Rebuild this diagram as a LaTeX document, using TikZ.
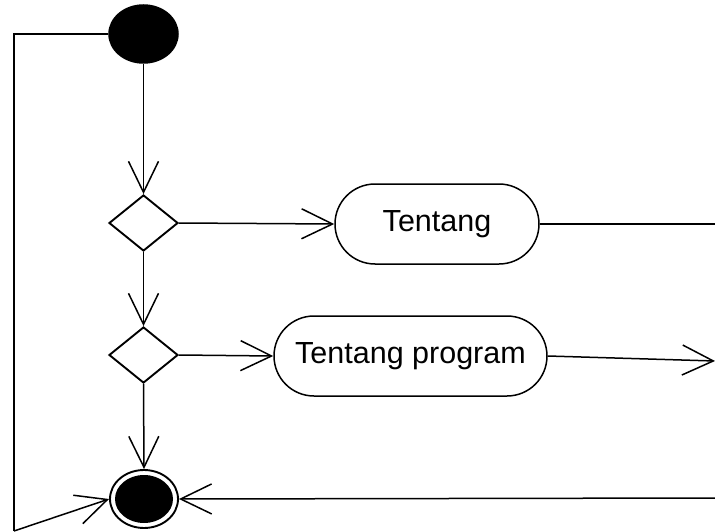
\documentclass[tikz,border=0pt]{standalone}
\usepackage{fontspec}
\setmainfont{Liberation Sans}
\usetikzlibrary{shapes.geometric,arrows.meta}
\begin{document}
\begin{tikzpicture}[x=1pt,y=-1pt,
  line width=1.5pt,
  flow/.style={-{Straight Barb[length=31pt,width=30pt,line width=1.5pt]}},
  startnode/.style={ellipse,fill=black,draw=black,minimum width=69pt,minimum height=58pt,inner sep=0pt},
  decision/.style={diamond,draw=black,line width=1.9pt,minimum width=69pt,minimum height=56pt,inner sep=0pt,aspect=1.23},
  activity/.style={rectangle,draw=black,rounded corners=40pt,minimum height=80pt,inner sep=0pt,font=\fontsize{30.5}{35}\selectfont},
  endouter/.style={ellipse,draw=black,line width=1.9pt,fill=white,minimum width=68pt,minimum height=58pt,inner sep=0pt},
  endinner/.style={ellipse,fill=black,minimum width=58pt,minimum height=48pt,inner sep=0pt}
]
\useasboundingbox (0,0) rectangle (715,532);
\node[startnode] (start) at (143.5,34) {};
\node[decision] (d1) at (143.5,223) {};
\node[decision] (d2) at (143.5,355) {};
\node[activity,minimum width=204pt] (tent) at (437,224) {Tentang};
\node[activity,minimum width=273pt] (prog) at (410.5,356) {Tentang program};
\node[endouter] (end) at (144,499) {};
\node[endinner] (endin) at (144,499) {};
\coordinate (r1) at (715,224);
\coordinate (r2) at (715,361);
\coordinate (r3) at (715,498);
\coordinate (l1) at (14,34);
\coordinate (l2) at (14,531);

\draw[flow] (start.south) -- (d1.north);
\draw[flow] (d1.east) -- (tent.west);
\draw (tent.east) -- (r1);
\draw[flow] (d1.south) -- (d2.north);
\draw[flow] (d2.east) -- (prog.west);
\draw[flow] (prog.east) -- (r2);
\draw[flow] (d2.south) -- (end.north);
\draw[flow] (r3) -- (end.east);
\draw (start.west) -- (l1) -- (l2);
\draw[flow] (l2) -- (end.west);
\end{tikzpicture}
\end{document}
